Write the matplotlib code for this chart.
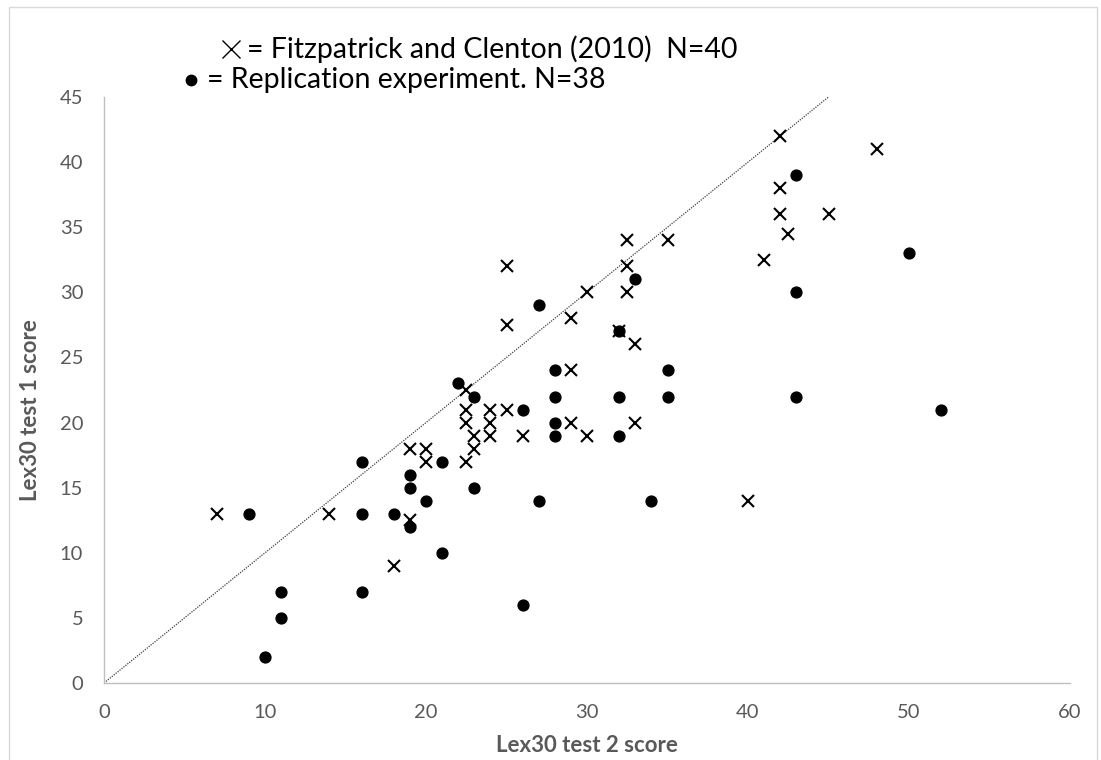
import matplotlib

matplotlib.use("Agg")
import matplotlib.pyplot as plt
from matplotlib import patches

# Fitzpatrick and Clenton (2010): test 2 score vs test 1 score
fc_test2 = [7, 14, 18, 19, 19, 20, 20, 22.5, 22.5, 22.5, 22.5, 23, 23, 24, 24, 24,
            25, 26, 25, 25, 29, 29, 29, 30, 30, 32, 32.5, 32.5, 32.5, 33, 33, 35,
            40, 41, 42, 42, 42, 42.5, 45, 48]
fc_test1 = [13, 13, 9, 12.5, 18, 18, 17, 17, 22.5, 21, 20, 19, 18, 21, 20, 19,
            21, 19, 32, 27.5, 28, 24, 20, 19, 30, 27, 34, 32, 30, 26, 20, 34,
            14, 32.5, 42, 38, 36, 34.5, 36, 41]

# Replication experiment
rep_test2 = [9, 10, 11, 11, 16, 16, 16, 18, 19, 19, 19, 20, 21, 21, 22, 23, 23,
             26, 26, 27, 27, 28, 28, 28, 28, 32, 32, 32, 33, 34, 35, 35, 43, 43,
             43, 50, 52]
rep_test1 = [13, 2, 7, 5, 17, 13, 7, 13, 16, 15, 12, 14, 17, 10, 23, 22, 15,
             21, 6, 29, 14, 24, 22, 20, 19, 27, 22, 19, 31, 14, 24, 22, 39, 30,
             22, 33, 21]

# line of equal scores
identity = [0, 45]

x_ticks = [0, 10, 20, 30, 40, 50, 60]
y_ticks = [0, 5, 10, 15, 20, 25, 30, 35, 40, 45]

text_grey = "#595959"
axis_grey = "#BFBFBF"

fig = plt.figure(figsize=(11.01, 7.60), dpi=100)
fig.patch.set_facecolor("white")

# outer chart frame
fig.patches.append(
    patches.Rectangle(
        (9 / 1101, -0.01), 1088 / 1101, 1 - 7 / 760 + 0.01,
        transform=fig.transFigure, fill=False, edgecolor="#D9D9D9", linewidth=1.0,
    )
)

ax = fig.add_axes([104 / 1101, 1 - 683 / 760, 966 / 1101, 586 / 760])

ax.plot(identity, identity, linestyle=(0, (1, 1)), linewidth=0.9, color="#404040", zorder=1)
ax.plot(rep_test2, rep_test1, linestyle="none", marker="o", markersize=7.8,
        color="black", zorder=2)
ax.plot(fc_test2, fc_test1, linestyle="none", marker="x", markersize=8.5,
        markeredgewidth=1.5, color="black", zorder=3)

ax.set_xlim(0, 60)
ax.set_ylim(0, 45)
ax.set_xticks(x_ticks)
ax.set_yticks(y_ticks)
ax.tick_params(length=0, labelsize=14.5, labelcolor=text_grey, pad=15)
for label in ax.get_xticklabels() + ax.get_yticklabels():
    label.set_family("Lato")

for spine in ("top", "right"):
    ax.spines[spine].set_visible(False)
for spine in ("left", "bottom"):
    ax.spines[spine].set_color(axis_grey)
    ax.spines[spine].set_linewidth(1.0)

fig.text(587 / 1101, 1 - 745 / 760, "Lex30 test 2 score", ha="center", va="center",
         fontsize=16, fontweight="bold", color=text_grey, family="Lato")
fig.text(31 / 1101, 1 - 410 / 760, "Lex30 test 1 score", ha="center", va="center",
         rotation=90, fontsize=16, fontweight="bold", color=text_grey, family="Lato")

# key written as text beside a drawn marker
fig.lines.append(
    plt.Line2D([231 / 1101], [1 - 49 / 760], transform=fig.transFigure, marker="x",
               markersize=13, markeredgewidth=1.0, color="black", linestyle="none")
)
fig.text(247 / 1101, 1 - 49 / 760, "= Fitzpatrick and Clenton (2010)  N=40",
         ha="left", va="center", fontsize=20.5, color="black", family="Lato")
fig.lines.append(
    plt.Line2D([191 / 1101], [1 - 80 / 760], transform=fig.transFigure, marker="o",
               markersize=7.5, color="black", linestyle="none")
)
fig.text(207 / 1101, 1 - 80 / 760, "= Replication experiment. N=38",
         ha="left", va="center", fontsize=20.5, color="black", family="Lato")

fig.savefig("out.png", dpi=100)
